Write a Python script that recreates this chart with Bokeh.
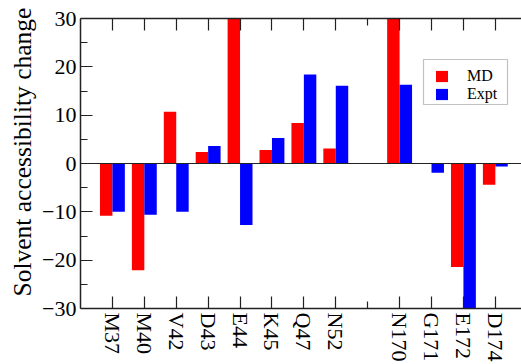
from bokeh.plotting import figure
from bokeh.models import (FixedTicker, LinearAxis, Range1d, Span, Legend, LegendItem,
                          ColumnDataSource, BoxAnnotation, Title)
from bokeh.embed import file_html
from bokeh.resources import INLINE

group1 = ["M37", "M40", "V42", "D43", "E44", "K45", "Q47", "N52"]
group2 = ["N170", "G171", "E172", "D174"]
md = [-10.8, -22.1, 10.7, 2.4, 30.0, 2.8, 8.4, 3.1, 30.0, 0.0, -21.4, -4.4]
expt = [-10.0, -10.6, -10.0, 3.6, -12.7, 5.3, 18.4, 16.1, 16.3, -1.9, -30.0, -0.6]
y_ticks = [-30, -20, -10, 0, 10, 20, 30]
y_title = "Solvent accessibility change"

cats = group1 + group2
xpos = list(range(1, len(group1) + 1)) + [len(group1) + 2 + i for i in range(len(group2))]
gap = [len(group1) + 1]

FONT = "Liberation Serif"
W = 0.39

p = figure(width=521, height=364, output_backend="svg", toolbar_location=None,
           x_range=Range1d(0, 13.82), y_range=Range1d(-30, 30),
           min_border_left=80, min_border_right=0, min_border_top=18, min_border_bottom=55,
           x_axis_location=None, y_axis_location=None)
p.outline_line_color = None
p.grid.visible = False
p.background_fill_color = "white"
p.border_fill_color = "white"

src = ColumnDataSource(dict(xm=[x - W / 2 for x in xpos], xe=[x + W / 2 for x in xpos],
                            md=md, expt=expt))
r1 = p.vbar(x="xm", top="md", bottom=0, width=W, source=src, fill_color="#ff0000", line_color=None)
r2 = p.vbar(x="xe", top="expt", bottom=0, width=W, source=src, fill_color="#0000ff", line_color=None)

p.add_layout(Span(location=0, dimension="width", line_color="#222222", line_width=1.2))

def style_axis(ax, labels=True):
    ax.axis_line_color = "#222222"
    ax.axis_line_width = 1.5
    ax.major_tick_line_color = "#222222"
    ax.minor_tick_line_color = "#222222"
    ax.major_tick_line_width = 1.2
    ax.minor_tick_line_width = 1.2
    ax.major_tick_in = 12
    ax.major_tick_out = 0
    ax.minor_tick_in = 7
    ax.minor_tick_out = 0
    ax.major_label_text_font = FONT
    ax.major_label_text_font_size = "22px" if labels else "0px"
    ax.major_label_text_color = "black"

xticker = FixedTicker(ticks=xpos, minor_ticks=gap)
overrides = {x: c for x, c in zip(xpos, cats)}

xb = LinearAxis(ticker=xticker, major_label_overrides=overrides)
style_axis(xb)
xb.major_label_orientation = "vertical"
xb.major_label_standoff = 4
p.add_layout(xb, "below")

xt = LinearAxis(ticker=xticker, major_label_overrides={x: "" for x in xpos})
style_axis(xt, labels=False)
xt.major_label_standoff = 0
p.add_layout(xt, "above")

minor_y = [v for v in range(-25, 30, 10)]
yl = LinearAxis(ticker=FixedTicker(ticks=y_ticks, minor_ticks=minor_y))
style_axis(yl)
yl.major_label_standoff = 4
p.add_layout(yl, "left")

# y-axis title, as a side title so it can sit a little above centre
p.add_layout(Title(text=y_title, align="left", offset=12, vertical_align="bottom",
                   text_font=FONT, text_font_size="25.5px", text_font_style="normal",
                   text_color="black", standoff=6), "left")

# legend frame
p.add_layout(BoxAnnotation(left=343, right=427, bottom=204, top=249,
                           left_units="screen", right_units="screen",
                           bottom_units="screen", top_units="screen",
                           fill_color="white", fill_alpha=1,
                           line_color="#333333", line_width=1.2, level="annotation"))

legend = Legend(items=[LegendItem(label="MD", renderers=[r1]),
                       LegendItem(label="Expt", renderers=[r2])],
                location=(354, 205))
legend.label_text_font = FONT
legend.label_text_font_size = "16px"
legend.label_text_color = "black"
legend.glyph_width = 15
legend.glyph_height = 14
legend.label_standoff = 18
legend.padding = 0
legend.spacing = 0
legend.margin = 0
legend.label_height = 14
legend.border_line_color = None
legend.background_fill_alpha = 0
p.add_layout(legend, "center")

open("out.html", "w").write(file_html(p, INLINE))
